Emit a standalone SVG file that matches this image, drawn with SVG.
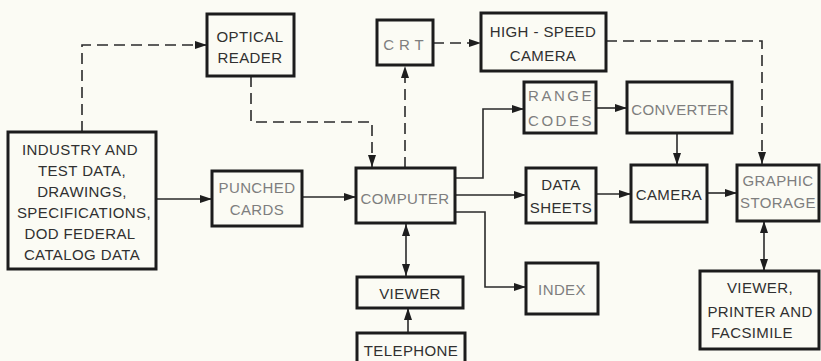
<svg xmlns="http://www.w3.org/2000/svg" width="821" height="361" viewBox="0 0 821 361">
  <defs>
    <marker id="ah" viewBox="0 0 12 8" refX="12" refY="4" markerWidth="12" markerHeight="8" markerUnits="userSpaceOnUse" orient="auto-start-reverse">
      <path d="M0,0 L12,4 L0,8 Z" fill="#1e1e1e"/>
    </marker>
    <style>
      .box { fill: none; stroke: #1c1c1c; stroke-width: 3; }
      .t { font-family: "Liberation Sans", "DejaVu Sans", sans-serif; font-size: 15px; fill: #303030; text-anchor: middle; letter-spacing: 0.4px; }
      .faint { fill: #7e7e7e; }
      .solid { fill: none; stroke: #2a2a2a; stroke-width: 1.6; }
      .dash { fill: none; stroke: #2a2a2a; stroke-width: 1.6; stroke-dasharray: 11 6; }
    </style>
  </defs>

  <rect x="0" y="0" width="821" height="361" fill="#fbfbf4"/>

  <!-- connectors -->
  <g id="connectors">
    <path class="dash" d="M82,132 V45 H207" marker-end="url(#ah)"/>
    <path class="dash" d="M251,76 V122 H372 V167" marker-end="url(#ah)"/>
    <path class="dash" d="M405,168 V66" marker-end="url(#ah)"/>
    <path class="dash" d="M433,43 H481" marker-end="url(#ah)"/>
    <path class="dash" d="M606,41 H762 V164" marker-end="url(#ah)"/>
    <path class="solid" d="M156,199 H212" marker-end="url(#ah)"/>
    <path class="solid" d="M302,197 H356" marker-end="url(#ah)"/>
    <path class="solid" d="M455,178 H483 V109 H524" marker-end="url(#ah)"/>
    <path class="solid" d="M455,195 H526" marker-end="url(#ah)"/>
    <path class="solid" d="M455,212 H485 V287 H526" marker-end="url(#ah)"/>
    <path class="solid" d="M596,108 H627" marker-end="url(#ah)"/>
    <path class="solid" d="M677,133 V165" marker-end="url(#ah)"/>
    <path class="solid" d="M596,194 H631" marker-end="url(#ah)"/>
    <path class="solid" d="M707,193 H737" marker-end="url(#ah)"/>
    <path class="solid" d="M406,224 V276" marker-start="url(#ah)" marker-end="url(#ah)"/>
    <path class="solid" d="M408,333 V308" marker-end="url(#ah)"/>
    <path class="solid" d="M764,221 V271" marker-start="url(#ah)" marker-end="url(#ah)"/>
  </g>

  <g id="optical-reader">
    <rect class="box" x="207" y="14" width="87" height="62"/>
    <text class="t" x="250" y="42">OPTICAL</text>
    <text class="t" x="250" y="63">READER</text>
  </g>

  <g id="source-data">
    <rect class="box" x="8" y="132" width="148" height="137"/>
    <text class="t" x="80" y="155">INDUSTRY AND</text>
    <text class="t" x="82" y="176">TEST DATA,</text>
    <text class="t" x="82" y="197">DRAWINGS,</text>
    <text class="t" x="84" y="218">SPECIFICATIONS,</text>
    <text class="t" x="80" y="239">DOD FEDERAL</text>
    <text class="t" x="82" y="260">CATALOG DATA</text>
  </g>

  <g id="punched-cards">
    <rect class="box" x="212" y="171" width="90" height="55"/>
    <text class="t faint" x="257" y="193">PUNCHED</text>
    <text class="t faint" x="257" y="215">CARDS</text>
  </g>

  <g id="crt">
    <rect class="box" x="377" y="20" width="56" height="45"/>
    <text class="t faint" x="406" y="50" style="letter-spacing:5px">CRT</text>
  </g>

  <g id="high-speed-camera">
    <rect class="box" x="481" y="13" width="125" height="58"/>
    <text class="t" x="543" y="37">HIGH - SPEED</text>
    <text class="t" x="543" y="61">CAMERA</text>
  </g>

  <g id="computer">
    <rect class="box" x="356" y="168" width="99" height="55"/>
    <text class="t faint" x="405" y="204">COMPUTER</text>
  </g>

  <g id="range-codes">
    <rect class="box" x="524" y="82" width="72" height="51"/>
    <text class="t faint" x="561" y="101" style="letter-spacing:2.5px">RANGE</text>
    <text class="t faint" x="561" y="126" style="letter-spacing:2.5px">CODES</text>
  </g>

  <g id="converter">
    <rect class="box" x="627" y="82" width="105" height="51"/>
    <text class="t faint" x="680" y="115">CONVERTER</text>
  </g>

  <g id="data-sheets">
    <rect class="box" x="526" y="168" width="70" height="55"/>
    <text class="t" x="561" y="190">DATA</text>
    <text class="t" x="561" y="213">SHEETS</text>
  </g>

  <g id="camera">
    <rect class="box" x="631" y="165" width="76" height="57"/>
    <text class="t" x="669" y="200">CAMERA</text>
  </g>

  <g id="graphic-storage">
    <rect class="box" x="737" y="165" width="82" height="56"/>
    <text class="t faint" x="778" y="186">GRAPHIC</text>
    <text class="t faint" x="778" y="208">STORAGE</text>
  </g>

  <g id="index">
    <rect class="box" x="526" y="263" width="72" height="51"/>
    <text class="t faint" x="562" y="295">INDEX</text>
  </g>

  <g id="viewer">
    <rect class="box" x="357" y="277" width="106" height="31"/>
    <text class="t" x="410" y="299">VIEWER</text>
  </g>

  <g id="telephone">
    <rect class="box" x="357" y="333" width="108" height="40"/>
    <text class="t" x="411" y="356">TELEPHONE</text>
  </g>

  <g id="viewer-printer-facsimile">
    <rect class="box" x="700" y="271" width="119" height="78"/>
    <text class="t" x="760" y="293">VIEWER,</text>
    <text class="t" x="760" y="317">PRINTER AND</text>
    <text class="t" x="752" y="338">FACSIMILE</text>
  </g>
</svg>
